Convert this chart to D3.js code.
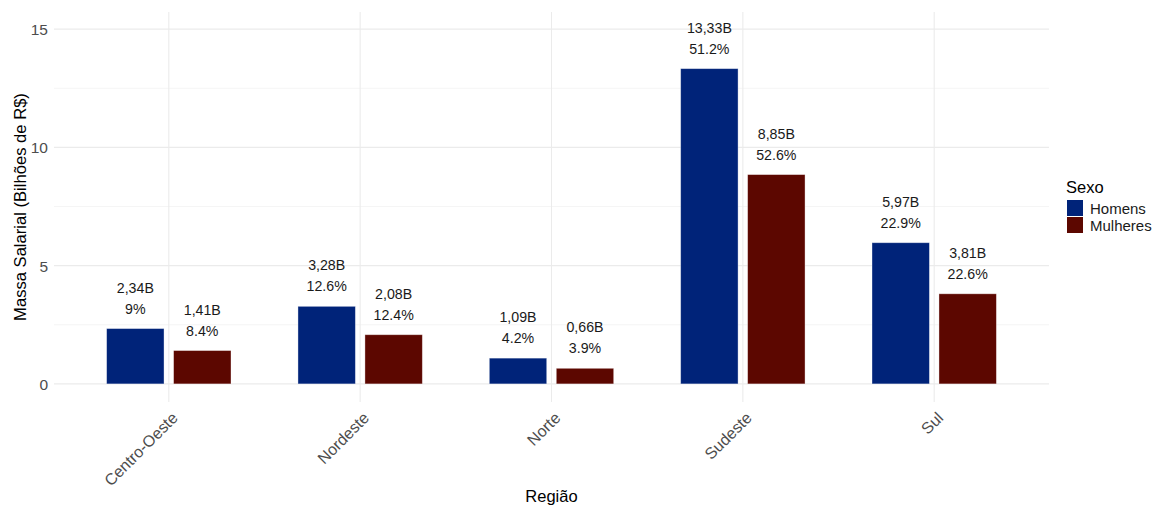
<!DOCTYPE html>
<html>
<head>
<meta charset="utf-8">
<script src="https://cdn.jsdelivr.net/npm/d3@7"></script>
<style>
  html, body { margin: 0; padding: 0; background: #ffffff; }
  svg { display: block; font-family: "Liberation Sans", Arial, sans-serif; }
</style>
</head>
<body>
<svg id="chart" width="1153" height="506"></svg>
<script>
// ---- data ----
const regioes = ["Centro-Oeste", "Nordeste", "Norte", "Sudeste", "Sul"];
const sexos = ["Homens", "Mulheres"];
const homens = [2.34, 3.28, 1.09, 13.33, 5.97];
const mulheres = [1.41, 2.08, 0.66, 8.85, 3.81];
const homensLabel = ["2,34B", "3,28B", "1,09B", "13,33B", "5,97B"];
const mulheresLabel = ["1,41B", "2,08B", "0,66B", "8,85B", "3,81B"];
const homensPct = ["9%", "12.6%", "4.2%", "51.2%", "22.9%"];
const mulheresPct = ["8.4%", "12.4%", "3.9%", "52.6%", "22.6%"];
const yTicks = [0, 5, 10, 15];
const yMinor = [2.5, 7.5, 12.5];
const colors = ["#002379", "#5C0700"];

const rows = [];
regioes.forEach((r, i) => {
  rows.push({ regiao: r, sexo: sexos[0], v: homens[i], lab: homensLabel[i], pct: homensPct[i] });
  rows.push({ regiao: r, sexo: sexos[1], v: mulheres[i], lab: mulheresLabel[i], pct: mulheresPct[i] });
});

// ---- layout ----
const svg = d3.select("#chart");
const panel = { left: 54, right: 1049, top: 12, bottom: 402 };

const x = d3.scaleBand().domain(regioes).range([panel.left, panel.right]).paddingInner(0).paddingOuter(0.1);
const dodge = d3.scaleBand().domain(sexos).range([-0.35, 0.35]);
const barW = 0.30;

const y = d3.scaleLinear().domain([-0.765, 15.725]).range([panel.bottom, panel.top]);

const cx = r => x(r) + x.bandwidth() / 2;
const step = x.step();

// grid
const g = svg.append("g");
g.selectAll("line.minor").data(yMinor).join("line")
  .attr("x1", panel.left).attr("x2", panel.right)
  .attr("y1", d => y(d)).attr("y2", d => y(d))
  .attr("stroke", "#ebebeb").attr("stroke-width", 0.55);
g.selectAll("line.major").data(yTicks).join("line")
  .attr("x1", panel.left).attr("x2", panel.right)
  .attr("y1", d => y(d)).attr("y2", d => y(d))
  .attr("stroke", "#ebebeb").attr("stroke-width", 1.07);
g.selectAll("line.vx").data(regioes).join("line")
  .attr("x1", d => cx(d)).attr("x2", d => cx(d))
  .attr("y1", panel.top).attr("y2", panel.bottom)
  .attr("stroke", "#ebebeb").attr("stroke-width", 1.07);

// bars
const barX = d => cx(d.regiao) + (dodge(d.sexo) + dodge.bandwidth() / 2 - barW / 2) * step;
svg.append("g").selectAll("rect").data(rows).join("rect")
  .attr("x", barX)
  .attr("width", barW * step)
  .attr("y", d => y(d.v))
  .attr("height", d => y(0) - y(d.v))
  .attr("fill", d => colors[sexos.indexOf(d.sexo)])
  .attr("stroke", "#ffffff").attr("stroke-opacity", 0.45).attr("stroke-width", 0.8);

// labels
const lab = svg.append("g").attr("font-size", 14.2).attr("fill", "#1a1a1a").attr("text-anchor", "middle");
rows.forEach(d => {
  const xm = barX(d) + barW * step / 2;
  lab.append("text").attr("x", xm).attr("y", y(d.v) - 41).attr("dy", "0.35em").text(d.lab);
  lab.append("text").attr("x", xm).attr("y", y(d.v) - 20).attr("dy", "0.35em").text(d.pct);
});

// y axis
const yAxis = d3.axisLeft(y).tickValues(yTicks).tickSize(0).tickPadding(0).tickFormat(d3.format("d"));
const ya = svg.append("g").attr("transform", `translate(${panel.left - 6},0)`).call(yAxis);
ya.select(".domain").remove();
ya.selectAll("text").attr("font-size", 15.5).attr("fill", "#4d4d4d").attr("font-family", "Liberation Sans, Arial, sans-serif").attr("dy", "0.35em");

// x axis
const xAxis = d3.axisBottom(x).tickSize(0).tickPadding(0);
const xa = svg.append("g").attr("transform", `translate(0,${panel.bottom})`).call(xAxis);
xa.select(".domain").remove();
xa.selectAll("text")
  .attr("font-size", 16).attr("fill", "#4d4d4d").attr("font-family", "Liberation Sans, Arial, sans-serif")
  .attr("text-anchor", "end").attr("dy", null).attr("y", 0)
  .attr("transform", "translate(10,17) rotate(-45)");

// axis titles
svg.append("text").attr("x", (panel.left + panel.right) / 2).attr("y", 501.5)
  .attr("text-anchor", "middle").attr("font-size", 16.5).attr("fill", "#000").text("Região");
svg.append("text").attr("transform", `translate(26,${(panel.top + panel.bottom) / 2}) rotate(-90)`)
  .attr("text-anchor", "middle").attr("font-size", 16.6).attr("fill", "#000").text("Massa Salarial (Bilhões de R$)");

// legend
const leg = svg.append("g").attr("transform", "translate(1066,0)");
leg.append("text").attr("x", 0).attr("y", 187).attr("dy", "0.35em").attr("font-size", 16.5).attr("fill", "#000").text("Sexo");
sexos.forEach((s, i) => {
  leg.append("rect").attr("x", 1).attr("y", 200 + i * 17).attr("width", 16).attr("height", 16).attr("fill", colors[i]);
  leg.append("text").attr("x", 24).attr("y", 208.5 + i * 17).attr("dy", "0.35em").attr("font-size", 15).attr("fill", "#1a1a1a").text(s);
});
</script>
</body>
</html>
